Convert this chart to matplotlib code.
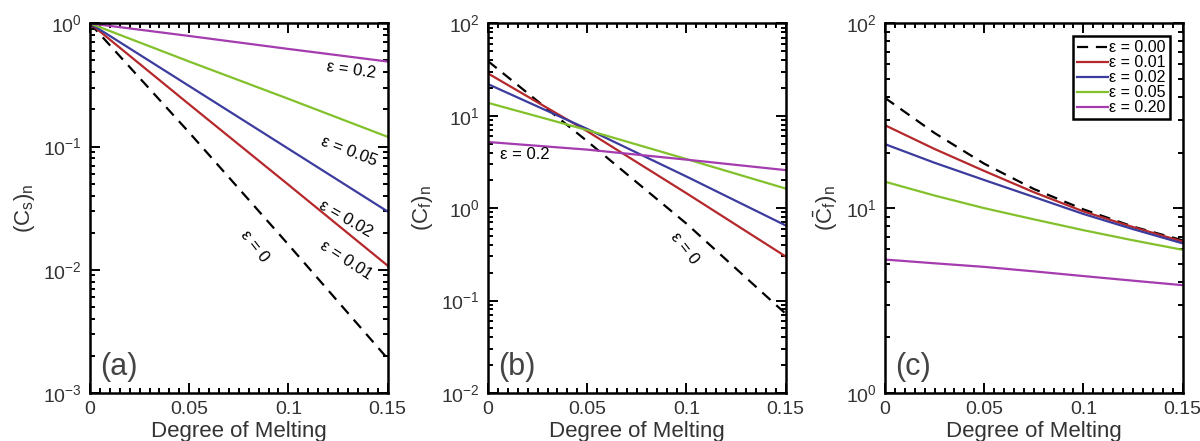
import matplotlib
matplotlib.use("Agg")
import matplotlib.pyplot as plt
from matplotlib.ticker import MultipleLocator, LogLocator, LogFormatterSciNotation, NullFormatter

plt.rcParams['font.family'] = ['Liberation Sans', 'DejaVu Sans']
plt.rcParams['mathtext.default'] = 'regular'

# Werte
eps_labels = ["ε = 0.00", "ε = 0.01", "ε = 0.02", "ε = 0.05", "ε = 0.20"]
colors = ["black", "#b5282b", "#3c3c9e", "#82c12b", "#a43caf"]
styles = ["--", "-", "-", "-", "-"]

x_lin = [0, 0.05, 0.1, 0.15]
cs_eps00 = [1.0, 0.13, 0.016, 0.0019]
cs_eps01 = [1.0, 0.22, 0.049, 0.0108]
cs_eps02 = [1.0, 0.31, 0.096, 0.0297]
cs_eps05 = [1.0, 0.49, 0.244, 0.12]
cs_eps20 = [1.0, 0.79, 0.62, 0.49]

cf_eps00 = [39.0, 5.3, 0.68, 0.072]
cf_eps01 = [28.7, 6.8, 1.45, 0.30]
cf_eps02 = [22.0, 7.2, 2.2, 0.65]
cf_eps05 = [13.8, 7.0, 3.4, 1.63]
cf_eps20 = [5.2, 4.3, 3.35, 2.58]

x_avg = [0, 0.025, 0.05, 0.075, 0.1, 0.125, 0.15]
cfa_eps00 = [39.5, 25.5, 17.4, 12.7, 9.85, 7.95, 6.7]
cfa_eps01 = [28.1, 20.9, 15.9, 12.2, 9.6, 7.9, 6.6]
cfa_eps02 = [22.2, 17.6, 14.2, 11.5, 9.3, 7.7, 6.45]
cfa_eps05 = [13.9, 11.7, 10.0, 8.7, 7.6, 6.7, 5.95]
cfa_eps20 = [5.27, 5.03, 4.81, 4.55, 4.29, 4.05, 3.83]

panels = [
    (x_lin, [cs_eps00, cs_eps01, cs_eps02, cs_eps05, cs_eps20], (1e-3, 1), r'$(C_s)_n$', '(a)'),
    (x_lin, [cf_eps00, cf_eps01, cf_eps02, cf_eps05, cf_eps20], (1e-2, 1e2), r'$(C_f)_n$', '(b)'),
    (x_avg, [cfa_eps00, cfa_eps01, cfa_eps02, cfa_eps05, cfa_eps20], (1, 1e2), r'$(\bar{C}_f)_n$', '(c)'),
]

fig = plt.figure(figsize=(12, 4.41), dpi=100)
lefts = [0.075, 0.4067, 0.7375]
axes = []
for left, (xs, series, ylim, ylab, tag) in zip(lefts, panels):
    ax = fig.add_axes([left, 0.109, 0.248, 0.838])
    for ys, c, ls, lab in zip(series, colors, styles, eps_labels):
        if ls == "--":
            ax.plot(xs, ys, color=c, lw=1.6, ls=(0, (5, 3.5)), label=lab)
        else:
            ax.plot(xs, ys, color=c, lw=1.6, label=lab)
    ax.set_yscale('log')
    ax.set_xlim(0, 0.15)
    ax.set_ylim(*ylim)
    ax.xaxis.set_minor_locator(MultipleLocator(0.005))
    ax.set_xticks([0, 0.05, 0.1, 0.15])
    ax.set_xticklabels(['0', '0.05', '0.1', '0.15'])
    ax.yaxis.set_major_locator(LogLocator(base=10, numticks=10))
    ax.yaxis.set_major_formatter(LogFormatterSciNotation())
    ax.yaxis.set_minor_locator(LogLocator(base=10, subs=range(2, 10), numticks=20))
    ax.yaxis.set_minor_formatter(NullFormatter())
    ax.tick_params(which='both', direction='in', top=True, right=True, width=1.4,
                   labelsize=14, labelcolor='#333333', pad=6)
    ax.tick_params(which='major', length=7)
    ax.tick_params(which='minor', length=3.5)
    for sp in ax.spines.values():
        sp.set_linewidth(1.8)
    ax.set_xlabel('Degree of Melting', fontsize=16, color='#333333', labelpad=2)
    ax.set_ylabel(ylab, fontsize=16, color='#333333', labelpad=4)
    ax.text(0.035, 0.03, tag, transform=ax.transAxes, fontsize=22, color='#444444',
            ha='left', va='bottom')
    axes.append(ax)

ax_a, ax_b, ax_c = axes
kw = dict(fontsize=12, color='black', ha='center', va='center')
ax_a.text(0.1315, 0.42, 'ε = 0.2', rotation=-8, **kw)
ax_a.text(0.1305, 0.092, 'ε = 0.05', rotation=-21, **kw)
ax_a.text(0.129, 0.026, 'ε = 0.02', rotation=-30, **kw)
ax_a.text(0.129, 0.0119, 'ε = 0.01', rotation=-33, **kw)
ax_a.text(0.083, 0.0155, 'ε = 0', rotation=-52, **kw)
ax_b.text(0.0185, 3.8, 'ε = 0.2', rotation=0, **kw)
ax_b.text(0.099, 0.37, 'ε = 0', rotation=-52, **kw)

leg = ax_c.legend(loc='upper right', fontsize=11.5, frameon=True, fancybox=False,
                  framealpha=1, handlelength=1.9, handletextpad=0.1, borderpad=0.25,
                  labelspacing=0.0, borderaxespad=0.8)
leg.get_frame().set_edgecolor('black')
leg.get_frame().set_linewidth(1.8)

fig.savefig('out.png', dpi=100)
